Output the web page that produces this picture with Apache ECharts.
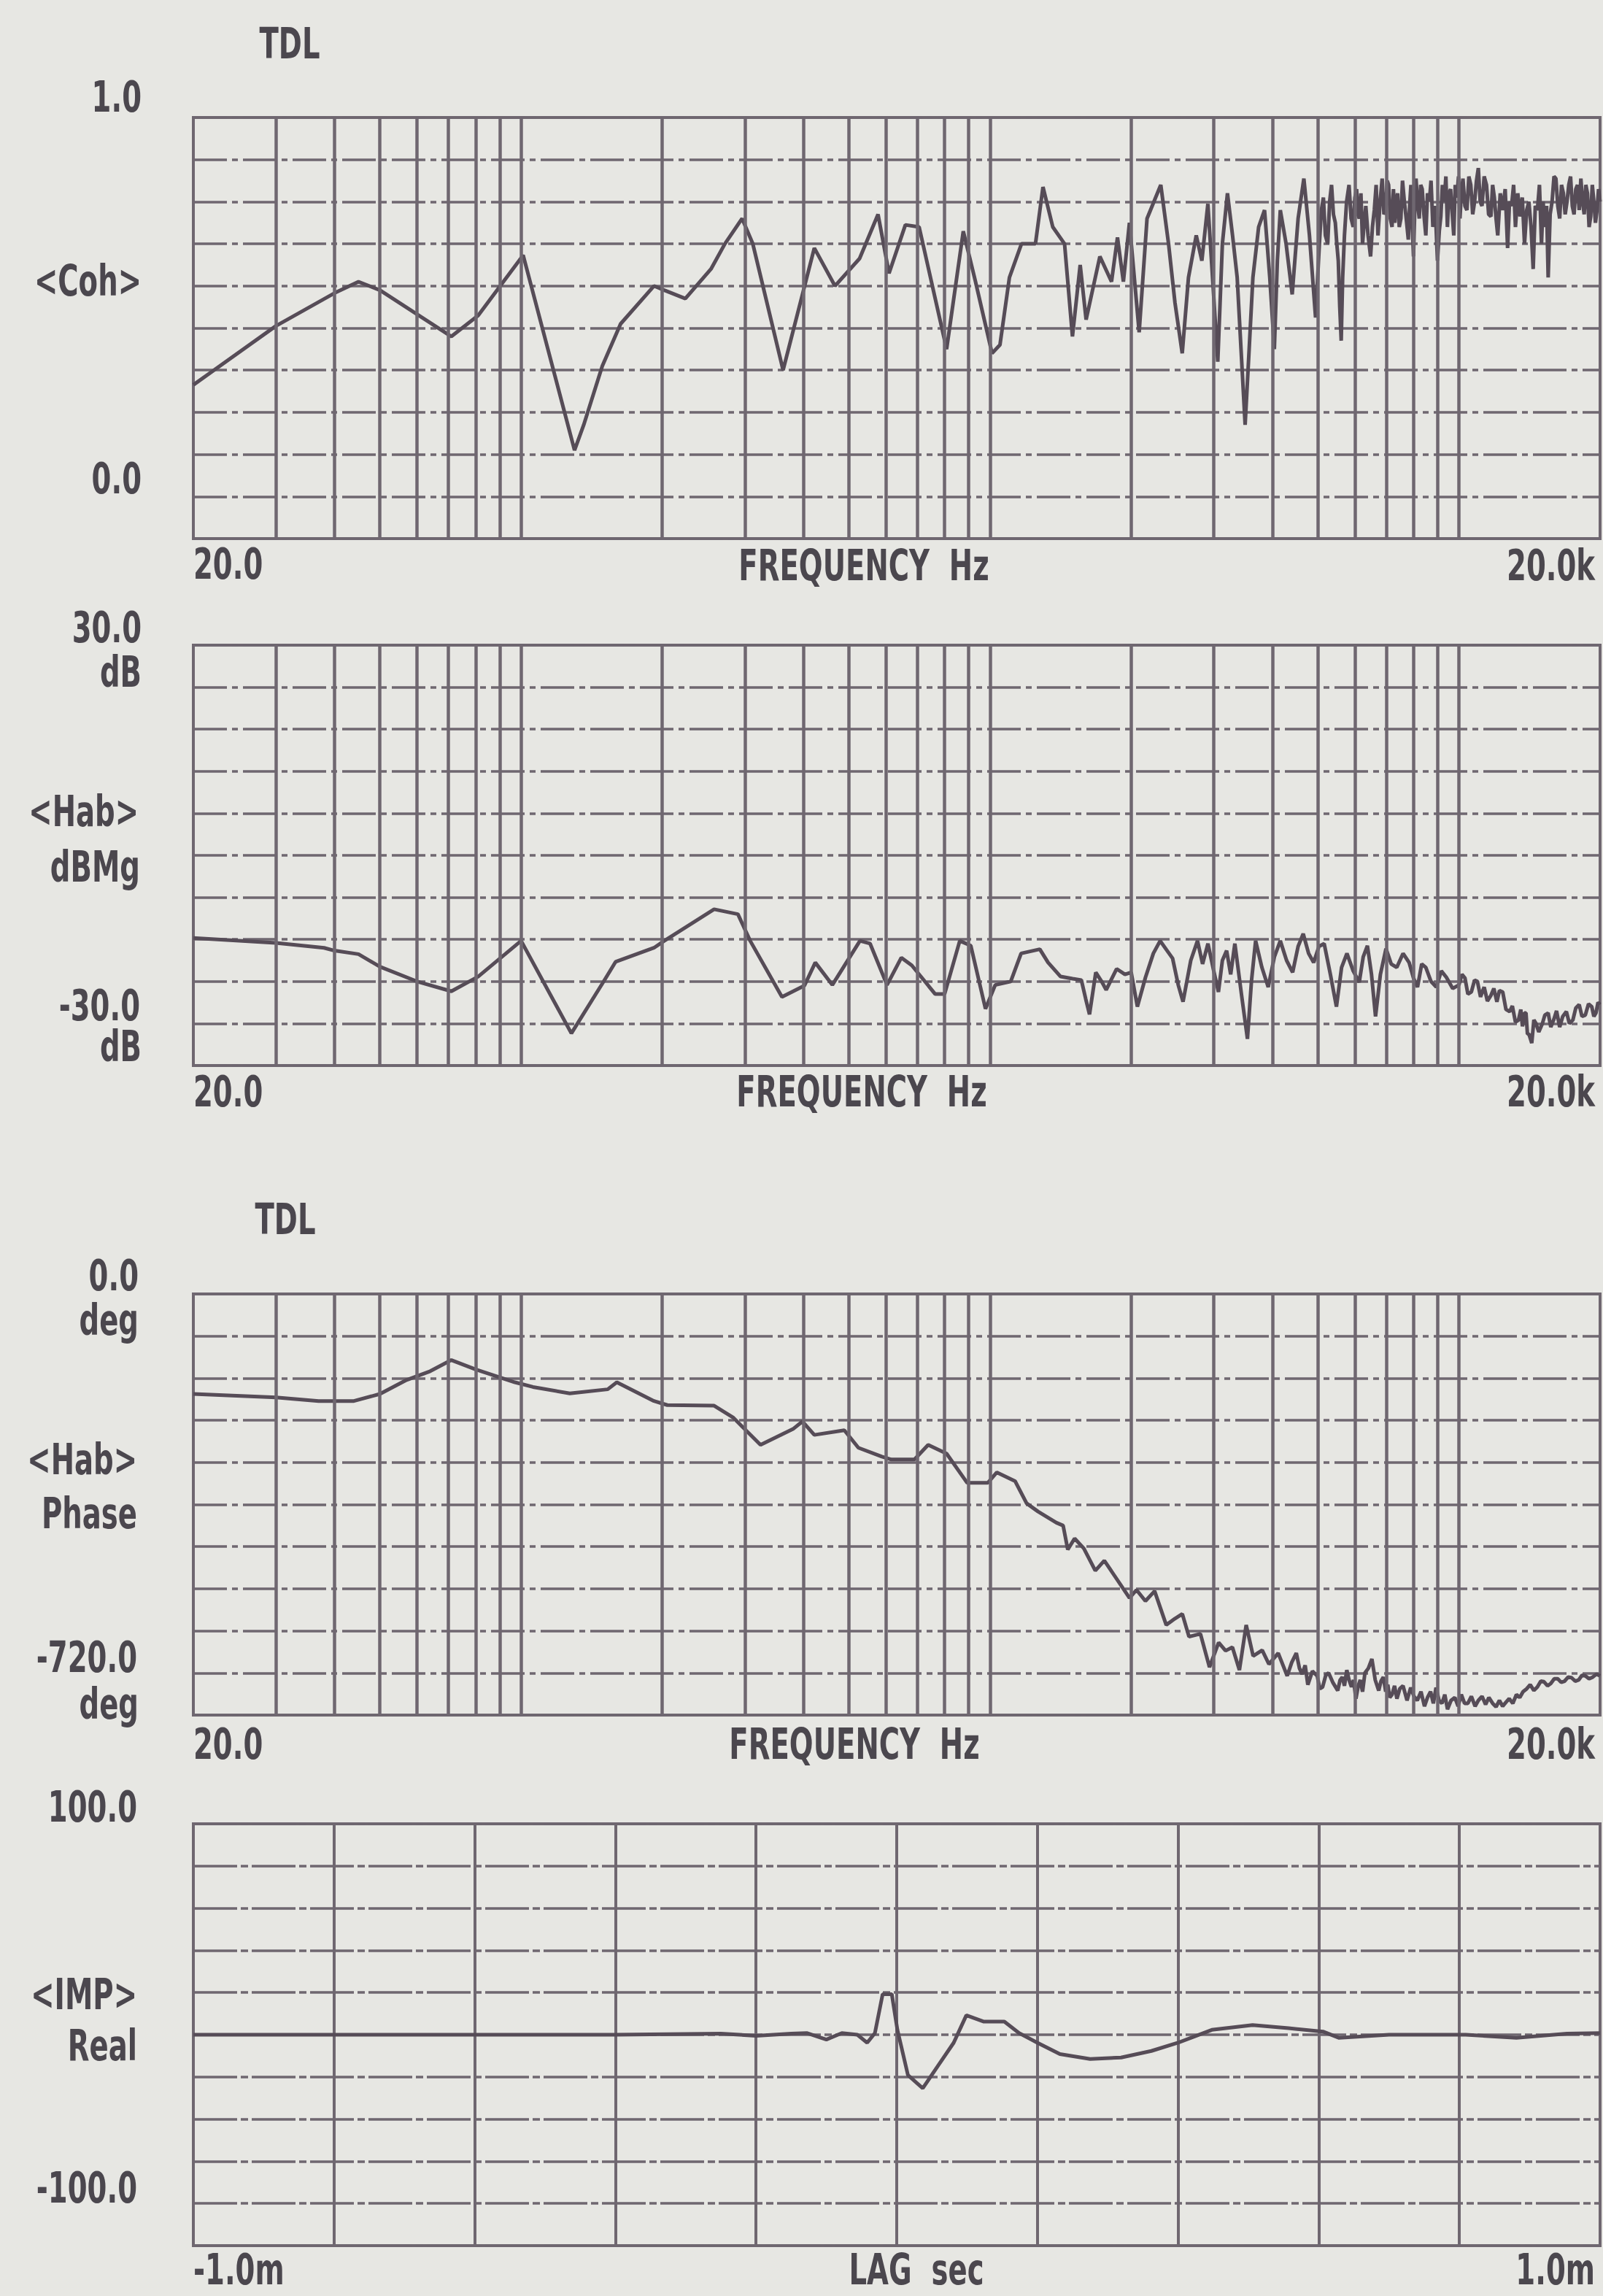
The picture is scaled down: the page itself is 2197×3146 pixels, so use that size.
<!DOCTYPE html>
<html>
<head>
<meta charset="utf-8">
<title>TDL</title>
<script src="https://cdn.jsdelivr.net/npm/echarts/dist/echarts.min.js"></script>
<style>
  html, body { margin: 0; padding: 0; background: #e7e7e3; }
  #chart { width: 2197px; height: 3146px; }
</style>
</head>
<body>
<div id="chart"></div>
<script>
// ---------- Coherence <Coh> vs frequency (Hz) ----------
const cohFreq = [
  20, 30, 40, 45, 50, 71, 81, 101, 130, 136, 149, 163, 192, 202, 224, 254, 272, 296, 312, 362,
  422, 467, 527, 577, 609, 660, 706, 808, 877, 929, 1010, 1050, 1100, 1167, 1250, 1297, 1361, 1442, 1499, 1557,
  1603, 1715, 1816, 1870, 1925, 1983, 2080, 2162, 2313, 2403, 2480, 2570, 2650, 2753, 2830, 2915, 2990, 3060, 3130, 3209,
  3290, 3366, 3430, 3500, 3570, 3636, 3740, 3850, 3950, 4040, 4100, 4160, 4280, 4410, 4540, 4670, 4800, 4946,
  5040, 5090, 5140, 5190, 5250, 5300, 5350, 5400, 5450, 5490, 5530, 5570, 5610, 5650, 5700, 5760, 5830, 5890, 5950, 6000,
  6050, 6090, 6130, 6180, 6230, 6280, 6330, 6400, 6480, 6540, 6600, 6660, 6720, 6790, 6860, 6920, 6980, 7030, 7080, 7140,
  7200, 7250, 7300, 7350, 7400, 7460, 7520, 7580, 7650, 7720, 7800, 7850, 7900, 7950, 8000, 8050, 8100, 8160, 8230, 8290,
  8350, 8420, 8500, 8570, 8650, 8720, 8800, 8900, 9000, 9080, 9150, 9220, 9300, 9380, 9450, 9520, 9600, 9680, 9750, 9820,
  9900, 9980, 10050, 10120, 10200, 10300, 10400, 10500, 10600, 10700, 10800, 10900, 11000, 11100, 11200, 11320, 11450, 11570, 11700, 11800,
  11900, 12000, 12100, 12250, 12400, 12550, 12700, 12820, 12950, 13080, 13200, 13350, 13500, 13650, 13800, 13950, 14100, 14250, 14400, 14550,
  14700, 14850, 15000, 15120, 15250, 15380, 15500, 15650, 15800, 15950, 16100, 16250, 16400, 16550, 16700, 16850, 17000, 17150, 17300, 17450,
  17600, 17750, 17900, 18050, 18200, 18350, 18500, 18650, 18800, 18950, 19100, 19250, 19400, 19550, 19700, 19850, 20000
];
const cohVal = [
  0.365, 0.505, 0.583, 0.61, 0.59, 0.48, 0.53, 0.673, 0.21, 0.27, 0.41, 0.51, 0.60, 0.59, 0.57, 0.64, 0.70, 0.76, 0.70, 0.40,
  0.69, 0.60, 0.665, 0.77, 0.63, 0.745, 0.74, 0.45, 0.73, 0.615, 0.44, 0.46, 0.62, 0.70, 0.70, 0.835, 0.74, 0.70, 0.48, 0.65,
  0.52, 0.67, 0.61, 0.715, 0.61, 0.75, 0.49, 0.76, 0.84, 0.70, 0.56, 0.44, 0.62, 0.72, 0.66, 0.795, 0.60, 0.42, 0.70, 0.82,
  0.72, 0.62, 0.45, 0.27, 0.45, 0.62, 0.74, 0.78, 0.62, 0.45, 0.66, 0.78, 0.70, 0.58, 0.76, 0.855, 0.72, 0.525,
  0.70, 0.78, 0.81, 0.72, 0.70, 0.80, 0.84, 0.77, 0.75, 0.70, 0.66, 0.55, 0.47, 0.62, 0.72, 0.80, 0.84, 0.76, 0.74, 0.81,
  0.83, 0.77, 0.76, 0.82, 0.70, 0.75, 0.79, 0.72, 0.67, 0.74, 0.78, 0.84, 0.72, 0.80, 0.855, 0.77, 0.78, 0.85, 0.84, 0.76,
  0.74, 0.83, 0.75, 0.80, 0.82, 0.74, 0.76, 0.85, 0.80, 0.76, 0.71, 0.79, 0.84, 0.75, 0.67, 0.78, 0.855, 0.80, 0.76, 0.84,
  0.83, 0.77, 0.72, 0.82, 0.80, 0.85, 0.74, 0.79, 0.66, 0.73, 0.765, 0.84, 0.80, 0.86, 0.74, 0.82, 0.83, 0.77, 0.72, 0.84,
  0.81, 0.86, 0.76, 0.82, 0.855, 0.79, 0.78, 0.86, 0.84, 0.77, 0.80, 0.85, 0.88, 0.80, 0.79, 0.86, 0.84, 0.77, 0.765, 0.84,
  0.81, 0.76, 0.72, 0.82, 0.78, 0.83, 0.69, 0.80, 0.79, 0.84, 0.74, 0.82, 0.765, 0.81, 0.70, 0.78, 0.80, 0.74, 0.64, 0.79,
  0.78, 0.84, 0.70, 0.80, 0.74, 0.79, 0.62, 0.77, 0.80, 0.86, 0.855, 0.79, 0.76, 0.84, 0.82, 0.77, 0.80, 0.84, 0.86, 0.79,
  0.77, 0.83, 0.84, 0.78, 0.855, 0.80, 0.77, 0.84, 0.82, 0.74, 0.765, 0.84, 0.80, 0.75, 0.78, 0.83, 0.80
];

// ---------- Transfer function magnitude <Hab> (dB) ----------
const magFreq = [
  20, 30, 38, 40, 45, 50, 60, 71, 81, 100, 128, 150, 159, 192, 202, 258, 290, 308, 360, 402,
  424, 461, 528, 555, 603, 647, 681, 764, 800, 862, 910, 978, 1026, 1107, 1165, 1277, 1330, 1414, 1500, 1566,
  1600, 1630, 1681, 1730, 1769, 1862, 1940, 2000, 2062, 2146, 2230, 2306, 2380, 2451, 2520, 2580, 2680, 2770, 2840, 2916,
  3000, 3070, 3130, 3196, 3260, 3328, 3440, 3540, 3610, 3685, 3800, 3920, 4040, 4160, 4290, 4420, 4540, 4655, 4780, 4900,
  5030, 5160, 5320, 5480, 5620, 5770, 5950, 6130, 6250, 6380, 6510, 6640, 6800, 6990, 7170, 7370, 7600, 7830, 8000, 8160,
  8330, 8500, 8720, 8950, 9170, 9400, 9700, 10000, 10150, 10300, 10450, 10630, 10800, 10950, 11120, 11320, 11500, 11700, 11870, 12050,
  12200, 12400, 12600, 12830, 13000, 13200, 13400, 13550, 13660, 13800, 13900, 14000, 14100, 14300, 14450, 14600, 14800, 15050, 15250, 15500,
  15700, 15940, 16150, 16400, 16650, 16950, 17200, 17500, 17750, 18050, 18300, 18600, 18900, 19200, 19400, 19600, 19800, 20000
];
const magVal = [
  -11.8, -12.5, -13.2, -13.6, -14.1, -15.9, -18.0, -19.4, -17.3, -12.2, -25.4, -18.0, -15.2, -13.2, -12.2, -7.7, -8.4, -12.2, -20.2, -18.6,
  -15.3, -18.5, -12.2, -12.6, -18.5, -14.6, -15.7, -19.8, -19.8, -12.2, -12.9, -21.9, -18.5, -18.0, -14.0, -13.4, -15.3, -17.3, -17.6, -17.8,
  -20.5, -22.7, -16.7, -18.0, -19.2, -16.2, -17.0, -16.7, -21.6, -17.4, -14.0, -12.2, -13.5, -14.7, -18.5, -20.9, -15.0, -12.2, -15.5, -12.6,
  -16.5, -19.5, -15.0, -13.6, -17.0, -12.6, -20.0, -26.2, -18.0, -12.2, -16.0, -18.8, -14.5, -12.2, -15.0, -16.7, -13.0, -11.2, -14.0, -15.3,
  -13.0, -12.6, -17.0, -21.6, -16.0, -14.0, -16.5, -18.1, -14.5, -12.9, -17.0, -23.0, -17.0, -13.3, -15.5, -16.0, -14.0, -15.3, -17.5, -18.8,
  -15.5, -16.0, -18.0, -18.8, -16.5, -17.4, -19.0, -18.5, -17.0, -17.5, -19.8, -19.5, -17.8, -18.0, -20.2, -18.8, -20.8, -20.0, -19.0, -20.9,
  -19.3, -19.5, -22.0, -22.3, -21.5, -23.8, -23.5, -22.0, -24.4, -22.5, -22.5, -25.5, -25.5, -26.8, -23.5, -24.0, -25.2, -24.1, -22.8, -22.5,
  -24.5, -23.4, -22.2, -24.5, -23.0, -22.3, -24.0, -23.5, -21.8, -21.3, -23.0, -22.8, -21.2, -21.6, -23.0, -22.5, -21.0, -21.3
];

// ---------- Transfer function phase <Hab> (deg) ----------
const phaseFreq = [
  20, 30, 37, 44, 50, 57, 64, 71, 80, 97, 106, 127, 153, 160, 192, 205, 258, 283, 324, 380,
  398, 422, 489, 524, 588, 616, 690, 738, 808, 894, 989, 1034, 1131, 1197, 1266, 1385, 1432, 1465, 1515, 1585,
  1677, 1753, 1917, 1984, 2053, 2145, 2244, 2376, 2480, 2571, 2657, 2810, 2938, 3073, 3180, 3288, 3403, 3518, 3640, 3806,
  3934, 4117, 4303, 4400, 4500, 4570, 4630, 4700, 4762, 4870, 4986, 5050, 5120, 5200, 5274, 5390, 5515, 5580, 5640, 5700,
  5766, 5830, 5900, 5960, 6030, 6100, 6160, 6230, 6303, 6410, 6522, 6630, 6745, 6820, 6900, 6980, 7051, 7120, 7200, 7290,
  7375, 7480, 7600, 7750, 7892, 8020, 8150, 8300, 8444, 8570, 8700, 8820, 8937, 9070, 9200, 9330, 9455, 9620, 9800, 9960,
  10118, 10280, 10450, 10630, 10826, 11000, 11200, 11400, 11583, 11800, 12000, 12200, 12394, 12600, 12800, 13030, 13262, 13480, 13700, 13950,
  14190, 14450, 14700, 14950, 15183, 15450, 15700, 15970, 16246, 16520, 16800, 17100, 17383, 17700, 18000, 18300, 18600, 18950, 19300, 19650,
  20000
];
const phaseVal = [
  -171, -177, -183, -183, -171, -147, -132, -113, -129, -151, -159, -170, -163, -151, -183, -190, -191, -211, -258, -231,
  -218, -241, -233, -263, -278, -283, -283, -258, -273, -323, -323, -305, -320, -358, -372, -391, -396, -437, -418, -435,
  -473, -456, -502, -520, -506, -525, -508, -566, -555, -547, -586, -581, -638, -596, -610, -604, -643, -566, -619, -609,
  -633, -614, -653, -630, -614, -640, -650, -635, -668, -645, -653, -675, -672, -652, -648, -665, -678, -660, -655, -670,
  -643, -660, -672, -660, -692, -670, -660, -680, -648, -640, -624, -660, -678, -662, -655, -680, -668, -690, -685, -670,
  -692, -675, -670, -695, -673, -688, -695, -680, -705, -690, -680, -700, -673, -695, -700, -685, -710, -695, -690, -705,
  -685, -700, -700, -688, -705, -695, -688, -702, -690, -700, -706, -695, -705, -698, -692, -700, -685, -690, -680, -675,
  -668, -678, -672, -662, -663, -670, -666, -658, -658, -664, -662, -655, -656, -662, -660, -652, -653, -658, -655, -650,
  -653
];

// ---------- Impulse response <IMP> real part vs lag (ms) ----------
const lagMs = [
  -1.0, -0.8, -0.6, -0.4, -0.25, -0.2, -0.15, -0.128, -0.1, -0.078, -0.056, -0.042, -0.031, -0.02, -0.007, 0.001, 0.016, 0.037, 0.059, 0.081,
  0.099, 0.124, 0.153, 0.174, 0.2, 0.232, 0.275, 0.319, 0.362, 0.4, 0.448, 0.506, 0.557, 0.606, 0.629, 0.7, 0.809, 0.881, 0.953, 1.0
];
const impVal = [
  0, 0, 0, 0, 0.5, -0.5, 0.5, 0.8, -2.3, 0.8, 0, -3.8, 0.8, 19.2, 19.2, 2.3, -19.2, -25.4, -14.6, -3.8,
  9.2, 6.2, 6.2, 0.8, -3.8, -9.2, -11.5, -10.8, -7.7, -3.8, 2.3, 4.6, 3.1, 1.5, -1.5, 0, 0, -1.5, 0.5, 0.8
];

// Log-frequency graticule lines (between the 20 Hz and 20 kHz edges)
const freqGridLines = [30, 40, 50, 60, 70, 80, 90, 100, 200, 300, 400, 500, 600, 700, 800, 900,
  1000, 2000, 3000, 4000, 5000, 6000, 7000, 8000, 9000, 10000];

// Axis scale annotations
const cohScale = ['1.0', '0.0'];
const magScale = ['30.0', 'dB', '-30.0', 'dB'];
const phaseScale = ['0.0', 'deg', '-720.0', 'deg'];
const impScale = ['100.0', '-100.0'];
const freqTicks = ['20.0', 'FREQUENCY  Hz', '20.0k'];
const lagTicks = ['-1.0m', 'LAG  sec', '1.0m'];

// ---------- styling / layout ----------
const W = 2197;
const PLOT_LEFT = 265, PLOT_RIGHT = 2193;
const panels = [
  { top: 161, height: 577 },
  { top: 884, height: 576 },
  { top: 1773, height: 577 },
  { top: 2499, height: 578 }
];
const INK = '#6f6770';
const TRACE = '#564c57';
const TEXT = '#4b474e';
const FF = '"Liberation Sans Narrow", "DejaVu Sans Condensed", "DejaVu Sans", sans-serif';
const FONT = 'bold 58px ' + FF;
const TEXT_SQUEEZE = 0.74;   // narrow plotter lettering

const chart = echarts.init(document.getElementById('chart'), null, { renderer: 'svg', width: 2197, height: 3146 });

function pairs(xs, ys) { return xs.map((x, i) => [x, ys[i]]); }

const hSplit = { show: true, lineStyle: { color: INK, width: 3.5, type: [46, 7, 8, 7] } };

const grids = panels.map(p => ({
  left: PLOT_LEFT, right: W - PLOT_RIGHT, top: p.top, height: p.height,
  show: true, borderColor: INK, borderWidth: 4, backgroundColor: 'transparent', containLabel: false
}));

const hidden = { axisLine: { show: false }, axisTick: { show: false }, axisLabel: { show: false } };

const xAxes = [0, 1, 2].map(i => Object.assign({
  type: 'log', logBase: 10, min: 20, max: 20000, gridIndex: i, splitLine: { show: false }
}, hidden));
xAxes.push(Object.assign({
  type: 'value', min: -1, max: 1, interval: 0.2, gridIndex: 3,
  splitLine: { show: true, lineStyle: { color: INK, width: 4, type: 'solid' } }
}, hidden));

const yAxes = [
  Object.assign({ type: 'value', min: 0, max: 1, interval: 0.1, gridIndex: 0, splitLine: hSplit }, hidden),
  Object.assign({ type: 'value', min: -30, max: 30, interval: 6, gridIndex: 1, splitLine: hSplit }, hidden),
  Object.assign({ type: 'value', min: -720, max: 0, interval: 72, gridIndex: 2, splitLine: hSplit }, hidden),
  Object.assign({ type: 'value', min: -100, max: 100, interval: 20, gridIndex: 3,
    splitLine: { show: true, lineStyle: { color: INK, width: 3.5, type: [60, 5, 10, 5] } } }, hidden)
];

const freqMarkLine = {
  silent: true, symbol: ['none', 'none'], label: { show: false },
  lineStyle: { color: INK, width: 4.5, type: 'solid' },
  emphasis: { disabled: true },
  data: freqGridLines.map(f => ({ xAxis: f }))
};

function trace(i, data, withGrid) {
  const s = {
    type: 'line', xAxisIndex: i, yAxisIndex: i, data: data,
    showSymbol: false, symbol: 'none', smooth: false, z: 3,
    lineStyle: { color: TRACE, width: 5 }, emphasis: { disabled: true }
  };
  if (withGrid) s.markLine = freqMarkLine;
  return s;
}

const series = [
  trace(0, pairs(cohFreq, cohVal), true),
  trace(1, pairs(magFreq, magVal), true),
  trace(2, pairs(phaseFreq, phaseVal), true),
  trace(3, pairs(lagMs, impVal), false)
];

// ---------- text annotations ----------
function txt(s, x, y, align) {
  return {
    type: 'text', x: x, y: y, scaleX: TEXT_SQUEEZE, silent: true, z: 10,
    style: { text: s, font: FONT, fill: TEXT, align: align, verticalAlign: 'middle',
             textAlign: align, textVerticalAlign: 'middle' }
  };
}
const LBL_R = 194;
const graphics = [
  txt('TDL', 397, 60, 'center'),
  txt(cohScale[0], LBL_R, 133, 'right'),
  txt('<Coh>', LBL_R, 385, 'right'),
  txt(cohScale[1], LBL_R, 656, 'right'),
  txt(freqTicks[0], PLOT_LEFT, 773, 'left'),
  txt(freqTicks[1], 1184, 775, 'center'),
  txt(freqTicks[2], 2186, 775, 'right'),

  txt(magScale[0], LBL_R, 860, 'right'),
  txt(magScale[1], LBL_R, 921, 'right'),
  txt('<Hab>', LBL_R - 4, 1112, 'right'),
  txt('dBMg', LBL_R - 2, 1188, 'right'),
  txt(magScale[2], LBL_R - 2, 1378, 'right'),
  txt(magScale[3], LBL_R, 1434, 'right'),
  txt(freqTicks[0], PLOT_LEFT, 1496, 'left'),
  txt(freqTicks[1], 1181, 1496, 'center'),
  txt(freqTicks[2], 2186, 1496, 'right'),

  txt('TDL', 391, 1671, 'center'),
  txt(phaseScale[0], LBL_R - 4, 1748, 'right'),
  txt(phaseScale[1], LBL_R - 4, 1809, 'right'),
  txt('<Hab>', LBL_R - 6, 2000, 'right'),
  txt('Phase', LBL_R - 6, 2074, 'right'),
  txt(phaseScale[2], LBL_R - 6, 2271, 'right'),
  txt(phaseScale[3], LBL_R - 4, 2335, 'right'),
  txt(freqTicks[0], PLOT_LEFT, 2390, 'left'),
  txt(freqTicks[1], 1171, 2390, 'center'),
  txt(freqTicks[2], 2186, 2390, 'right'),

  txt(impScale[0], LBL_R - 6, 2476, 'right'),
  txt('<IMP>', LBL_R - 6, 2733, 'right'),
  txt('Real', LBL_R - 6, 2803, 'right'),
  txt(impScale[1], LBL_R - 6, 2998, 'right'),
  txt(lagTicks[0], PLOT_LEFT, 3110, 'left'),
  txt(lagTicks[1], 1256, 3110, 'center'),
  txt(lagTicks[2], 2186, 3110, 'right')
];

chart.setOption({
  backgroundColor: '#e7e7e3',
  animation: false,
  grid: grids,
  xAxis: xAxes,
  yAxis: yAxes,
  series: series,
  graphic: graphics
});
</script>
</body>
</html>
